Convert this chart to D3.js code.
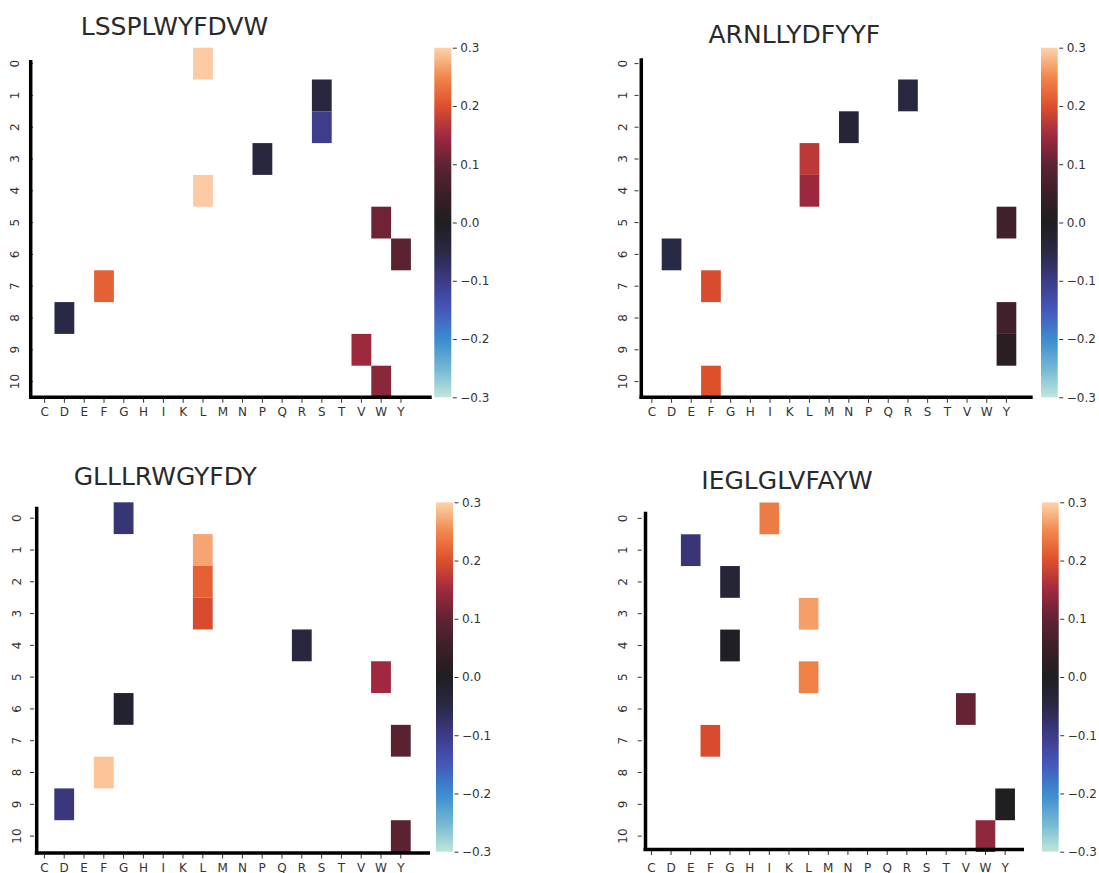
<!DOCTYPE html>
<html>
<head>
<meta charset="utf-8">
<script src="https://cdn.jsdelivr.net/npm/d3@7"></script>
<style>
  html, body { margin: 0; padding: 0; background: #fff; }
  svg { display: block; font-family: "DejaVu Sans", sans-serif; }
</style>
</head>
<body>
<svg id="chart" width="1099" height="873"></svg>
<script>
// ---- data ---------------------------------------------------------------
const aminoAcids = ["C", "D", "E", "F", "G", "H", "I", "K", "L", "M",
                    "N", "P", "Q", "R", "S", "T", "V", "W", "Y"];
const positions = [0, 1, 2, 3, 4, 5, 6, 7, 8, 9, 10];
const colorbarTicks = [-0.3, -0.2, -0.1, 0.0, 0.1, 0.2, 0.3];

const peptides = ["LSSPLWYFDVW", "ARNLLYDFYYF", "GLLLRWGYFDY", "IEGLGLVFAYW"];

// [position, residue, score]
const scoresLSSPLWYFDVW = [
  [0, "L", 0.295], [1, "S", -0.04], [2, "S", -0.105], [3, "P", -0.04],
  [4, "L", 0.295], [5, "W", 0.112], [6, "Y", 0.095], [7, "F", 0.215],
  [8, "D", -0.05], [9, "V", 0.148], [10, "W", 0.133]
];
const scoresARNLLYDFYYF = [
  [1, "R", -0.045], [2, "N", -0.03], [3, "L", 0.172], [4, "L", 0.146],
  [5, "Y", 0.06], [6, "D", -0.05], [7, "F", 0.195], [8, "Y", 0.06],
  [9, "Y", 0.02], [10, "F", 0.2]
];
const scoresGLLLRWGYFDY = [
  [0, "G", -0.085], [1, "L", 0.27], [2, "L", 0.215], [3, "L", 0.195],
  [4, "R", -0.04], [5, "W", 0.15], [6, "G", -0.02], [7, "Y", 0.09],
  [8, "F", 0.29], [9, "D", -0.092], [10, "Y", 0.095]
];
const scoresIEGLGLVFAYW = [
  [0, "I", 0.24], [1, "E", -0.088], [2, "G", -0.03], [3, "L", 0.265],
  [4, "G", -0.005], [5, "L", 0.245], [6, "V", 0.105], [7, "F", 0.195],
  [9, "Y", 0.0], [10, "W", 0.138]
];
const panelScores = [scoresLSSPLWYFDVW, scoresARNLLYDFYYF, scoresGLLLRWGYFDY, scoresIEGLGLVFAYW];

// ---- colour map (icefire-like diverging) --------------------------------
const cmapStops = [-0.3, -0.25, -0.2, -0.15, -0.1, -0.05, 0, 0.05, 0.1, 0.15, 0.2, 0.25, 0.3];
const cmapColors = ["#bee7da", "#72b6d3", "#3a8cd0", "#4557bb", "#3d3a86", "#2a2945",
                    "#1f1e21", "#3b1f26", "#5f2333", "#a0293f", "#de4f2c", "#f1874a", "#fdd3ad"];
const color = d3.scaleLinear().domain(cmapStops).range(cmapColors)
  .interpolate(d3.interpolateRgb).clamp(true);

// ---- panel geometry -----------------------------------------------------
const layout = [
  { gridLeft: 34.7, colW: 19.8, top: 47.7, bottom: 397.5,
    spineX: 30.7, spineTop: 60, spineY: 397.3, spineX0: 29, spineX1: 431.7,
    yLabelX: 15, yTickX: 33, xLabelY: 412.5,
    cbX: 434.3, cbW: 17, cbTop: 47.7, cbBottom: 397.3,
    titleX: 174.5, titleY: 35 },
  { gridLeft: 642, colW: 19.7, top: 47.7, bottom: 397.5,
    spineX: 641.3, spineTop: 58.3, spineY: 397.3, spineX0: 639.5, spineX1: 1032.7,
    yLabelX: 623.3, yTickX: 638.5, xLabelY: 412.5,
    cbX: 1041, cbW: 16.7, cbTop: 47.7, cbBottom: 397.3,
    titleX: 794.3, titleY: 42.7 },
  { gridLeft: 34.5, colW: 19.8, top: 502.3, bottom: 852,
    spineX: 36.7, spineTop: 506.7, spineY: 853, spineX0: 34.8, spineX1: 430,
    yLabelX: 17.3, yTickX: 34, xLabelY: 867.5,
    cbX: 436, cbW: 17, cbTop: 502.3, cbBottom: 851.7,
    titleX: 165.3, titleY: 485 },
  { gridLeft: 641.6, colW: 19.65, top: 502.5, bottom: 852,
    spineX: 645.5, spineTop: 511.7, spineY: 849.5, spineX0: 643.5, spineX1: 1024,
    yLabelX: 622.5, yTickX: 641.7, xLabelY: 867.5,
    cbX: 1042, cbW: 16.7, cbTop: 502.3, cbBottom: 851.7,
    titleX: 787, titleY: 489.3 }
];

const svg = d3.select("#chart");
const textColor = "#333";
const fmt = d3.format(".1f");

// gradient shared by all colour bars
const defs = svg.append("defs");
const grad = defs.append("linearGradient").attr("id", "cbar")
  .attr("x1", 0).attr("y1", 1).attr("x2", 0).attr("y2", 0);
d3.range(0, 1.0001, 0.02).forEach(t => {
  grad.append("stop").attr("offset", t)
    .attr("stop-color", color(-0.3 + 0.6 * t));
});

peptides.forEach((title, i) => {
  const L = layout[i];
  const g = svg.append("g");

  const x = d3.scaleBand().domain(aminoAcids)
    .range([L.gridLeft, L.gridLeft + L.colW * aminoAcids.length]);
  const y = d3.scaleBand().domain(positions).range([L.top, L.bottom]);

  // heatmap cells
  g.selectAll("rect.cell").data(panelScores[i]).join("rect")
    .attr("class", "cell")
    .attr("x", d => x(d[1]))
    .attr("y", d => y(d[0]))
    .attr("width", x.bandwidth())
    .attr("height", y.bandwidth())
    .attr("fill", d => color(d[2]));

  // x axis: ticks + labels
  const xAxis = g.append("g")
    .attr("transform", `translate(0,${L.spineY + 1.5})`)
    .call(d3.axisBottom(x).tickSize(4).tickPadding(4));
  xAxis.select(".domain").remove();
  xAxis.selectAll("line").attr("stroke", textColor);
  xAxis.selectAll("text").attr("fill", textColor)
    .attr("font-size", "12px").attr("font-family", "DejaVu Sans, sans-serif")
    .attr("dy", null)
    .attr("y", L.xLabelY - L.spineY - 1.5)
    .attr("dominant-baseline", "central");

  // y axis: ticks + rotated labels
  const yTicks = g.append("g");
  yTicks.selectAll("line").data(positions).join("line")
    .attr("x1", L.yTickX - 4).attr("x2", L.yTickX)
    .attr("y1", d => y(d) + y.bandwidth() / 2)
    .attr("y2", d => y(d) + y.bandwidth() / 2)
    .attr("stroke", textColor).attr("stroke-width", 1);
  yTicks.selectAll("text").data(positions).join("text")
    .attr("transform", d => `translate(${L.yLabelX},${y(d) + y.bandwidth() / 2}) rotate(-90)`)
    .attr("text-anchor", "middle")
    .attr("dominant-baseline", "central")
    .attr("font-size", "12px")
    .attr("fill", textColor)
    .text(d => d);

  // spines
  g.append("line")
    .attr("x1", L.spineX).attr("x2", L.spineX)
    .attr("y1", L.spineTop).attr("y2", L.spineY + 1.5)
    .attr("stroke", "#000").attr("stroke-width", 3.5);
  g.append("line")
    .attr("x1", L.spineX0).attr("x2", L.spineX1)
    .attr("y1", L.spineY).attr("y2", L.spineY)
    .attr("stroke", "#000").attr("stroke-width", 3.5);

  // colour bar
  g.append("rect")
    .attr("x", L.cbX).attr("y", L.cbTop)
    .attr("width", L.cbW).attr("height", L.cbBottom - L.cbTop)
    .attr("fill", "url(#cbar)");
  const cbScale = d3.scaleLinear().domain([-0.3, 0.3]).range([L.cbBottom, L.cbTop]);
  const cbAxis = g.append("g")
    .attr("transform", `translate(${L.cbX + L.cbW + 1.5},0)`)
    .call(d3.axisRight(cbScale).tickValues(colorbarTicks).tickFormat(fmt)
      .tickSize(4).tickPadding(3.5));
  cbAxis.select(".domain").remove();
  cbAxis.selectAll("line").attr("stroke", textColor);
  cbAxis.selectAll("text").attr("fill", textColor)
    .attr("font-size", "12px").attr("font-family", "DejaVu Sans, sans-serif");

  // title
  g.append("text")
    .attr("x", L.titleX).attr("y", L.titleY)
    .attr("text-anchor", "middle")
    .attr("font-size", "25px")
    .attr("fill", "#2a2a2a")
    .text(title);
});
</script>
</body>
</html>
